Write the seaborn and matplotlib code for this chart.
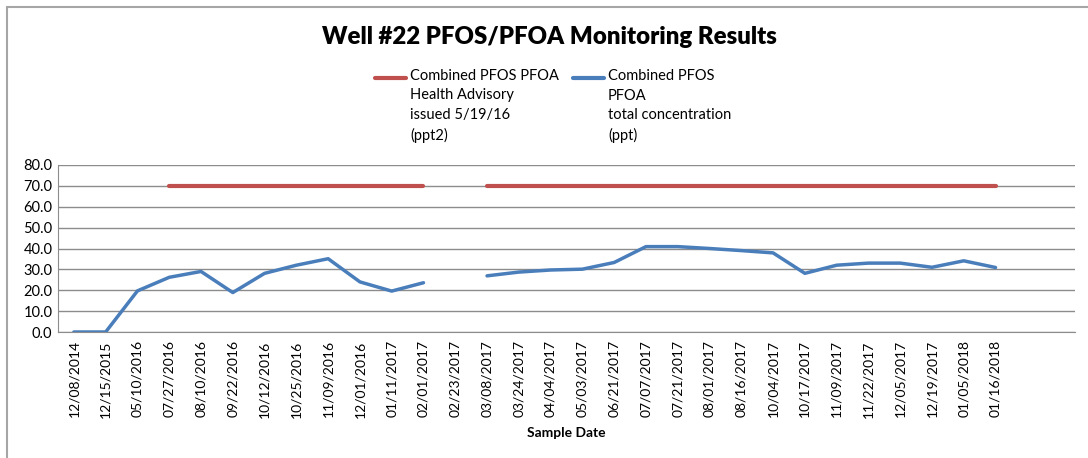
import numpy as np
import pandas as pd
import matplotlib
matplotlib.use("Agg")
import matplotlib.pyplot as plt
from matplotlib.patches import Rectangle
from matplotlib.lines import Line2D
import seaborn as sns

# sample dates (last two slots are empty categories in the original)
dates = ["12/08/2014", "12/15/2015", "05/10/2016", "07/27/2016", "08/10/2016",
         "09/22/2016", "10/12/2016", "10/25/2016", "11/09/2016", "12/01/2016",
         "01/11/2017", "02/01/2017", "02/23/2017", "03/08/2017", "03/24/2017",
         "04/04/2017", "05/03/2017", "06/21/2017", "07/07/2017", "07/21/2017",
         "08/01/2017", "08/16/2017", "10/04/2017", "10/17/2017", "11/09/2017",
         "11/22/2017", "12/05/2017", "12/19/2017", "01/05/2018", "01/16/2018",
         "", ""]

# combined PFOS+PFOA concentration (ppt), NaN = no value
concentration = [0.0, 0.0, 19.7, 26.2, 29.0, 18.9, 28.1, 32.0, 35.1, 24.0,
                 19.6, 23.6, np.nan, 26.9, 28.7, 29.7, 30.1, 33.3, 40.9, 40.9,
                 40.0, 39.0, 37.9, 28.1, 32.0, 33.0, 33.0, 31.0, 34.1, 30.9,
                 np.nan, np.nan]

# health advisory level (ppt)
advisory = [np.nan, np.nan, np.nan, 70, 70, 70, 70, 70, 70, 70,
            70, 70, np.nan, 70, 70, 70, 70, 70, 70, 70,
            70, 70, 70, 70, 70, 70, 70, 70, 70, 70,
            np.nan, np.nan]

legend_labels = ["Combined PFOS PFOA\nHealth Advisory\nissued 5/19/16\n(ppt2)",
                 "Combined PFOS\nPFOA\ntotal concentration\n(ppt)"]

red = "#c0504d"
blue = "#4a7ebb"
grid = "#8c8c8c"

sns.set_style("white")
plt.rcParams["font.family"] = ["Lato", "DejaVu Sans"]
plt.rcParams["text.color"] = "black"
plt.rcParams["xtick.color"] = "black"
plt.rcParams["ytick.color"] = "black"
plt.rcParams["axes.labelcolor"] = "black"


def segments(values):
    # split a series into runs of non-missing values
    rows, seg = [], 0
    prev_nan = True
    for i, v in enumerate(values):
        if np.isnan(v):
            prev_nan = True
            continue
        if prev_nan:
            seg += 1
            prev_nan = False
        rows.append({"pos": i, "value": v, "seg": seg})
    return pd.DataFrame(rows)


conc_df = segments(concentration)
adv_df = segments(advisory)

fig = plt.figure(figsize=(10.88, 4.58), dpi=100)
ax = fig.add_axes([58 / 1088, 1 - 332 / 458, (1075 - 58) / 1088, (332 - 165) / 458])

sns.lineplot(data=adv_df, x="pos", y="value", units="seg", estimator=None,
             color=red, linewidth=3, ax=ax, legend=False)
sns.lineplot(data=conc_df, x="pos", y="value", units="seg", estimator=None,
             color=blue, linewidth=2.5, ax=ax, legend=False)

n = len(dates)
ax.set_xlim(-0.5, n - 0.5)
ax.set_ylim(0, 80)
ax.set_yticks(np.arange(0, 81, 10))
ax.set_yticklabels([f"{v:.1f}" for v in np.arange(0, 81, 10)], fontsize=10.5)
ax.set_xticks(np.arange(n))
ax.set_xticklabels(dates, rotation=90, fontsize=10)
ax.set_xticks(np.arange(n + 1) - 0.5, minor=True)
ax.tick_params(axis="x", which="major", length=0, pad=6)
ax.tick_params(axis="x", which="minor", length=5, color=grid, direction="out")
ax.tick_params(axis="y", length=0, pad=4)
ax.yaxis.grid(True, color=grid, linewidth=1)
ax.set_axisbelow(True)
for side in ["top", "right"]:
    ax.spines[side].set_visible(False)
ax.spines["left"].set_color(grid)
ax.spines["bottom"].set_color(grid)
ax.set_xlabel("Sample Date", fontsize=10, fontweight="bold", labelpad=7)
ax.set_ylabel("")

fig.suptitle("Well #22 PFOS/PFOA Monitoring Results", x=0.505, y=0.943,
             fontsize=17.3, fontweight="heavy")

# legend drawn by hand: handle aligned with the first text line
for (x0, color, label) in [(375, red, legend_labels[0]), (573, blue, legend_labels[1])]:
    fig.add_artist(Line2D([x0 / 1088, (x0 + 31) / 1088], [1 - 78 / 458] * 2,
                          color=color, linewidth=3, transform=fig.transFigure))
    fig.text((x0 + 35) / 1088, 1 - 69 / 458, label, fontsize=10.5,
             va="top", ha="left", linespacing=1.5)

fig.patches.append(Rectangle((7 / 1088, -0.1), 1.2, 1 - 7 / 458 + 0.1,
                             transform=fig.transFigure, fill=False,
                             edgecolor="#a6a6a6", linewidth=1.5))

fig.savefig("out.png", dpi=100)
